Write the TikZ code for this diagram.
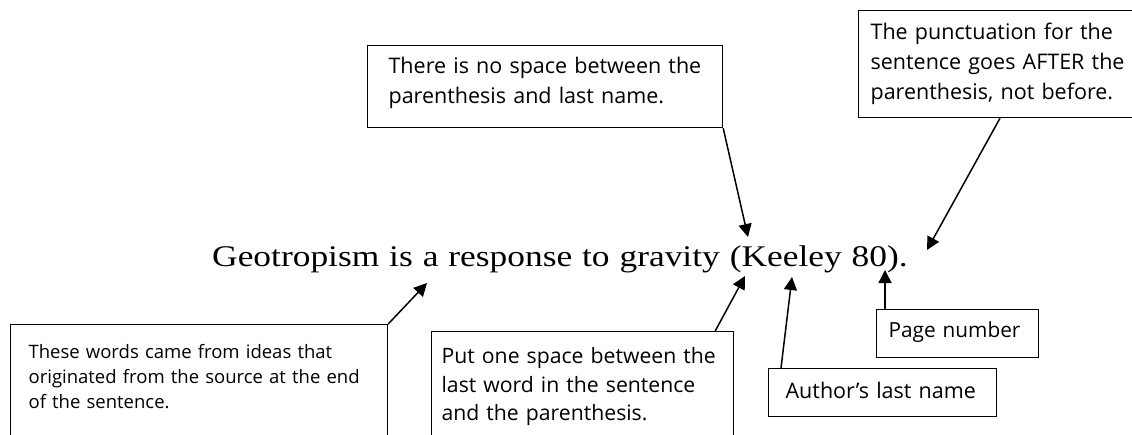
\documentclass[tikz,border=0pt]{standalone}
\usepackage{fontspec}
\setmainfont{Open Sans}
\newfontfamily\sentfont[FakeStretch=1.18]{Liberation Serif}
\usetikzlibrary{arrows.meta}
\tikzset{
  note/.style={draw,line width=1.2pt,anchor=north west,align=left,inner ysep=0pt,font=\fontsize{21.5}{30}\selectfont},
  arr/.style={-{Triangle[length=13pt,width=13pt]},line width=1.5pt},
}
\begin{document}
\begin{tikzpicture}[x=1pt,y=-1pt]
  \useasboundingbox (0,0) rectangle (1132,434);
  \clip (0,0) rectangle (1132,434);
  \node[anchor=base west,inner sep=0pt,font=\sentfont\fontsize{30}{36}\selectfont] (sent) at (212,266)
    {\spaceskip=0.33em Geotropism is a response to gravity (Keeley 80).};
  % where the arrows point
  \coordinate (tWords) at (427,283);
  \coordinate (tSpace) at (745,276);
  \coordinate (tAuthor) at (792,277);
  \coordinate (tPage) at (885,270);
  \coordinate (tParen) at (748,237);
  \coordinate (tPunct) at (927,250);
  % notes
  \node[note,inner xsep=18pt,text width=341pt,text height=34pt,text depth=82pt,font=\fontsize{18.5}{25}\selectfont] (srcnote) at (10,324)
    {These words came from ideas that\\originated from the source at the end\\of the sentence.};
  \node[note,inner xsep=10pt,text width=282pt,text height=32pt,text depth=80pt,font=\fontsize{21.2}{28.5}\selectfont] (spacenote) at (431,331)
    {Put one space between the\\last word in the sentence\\and the parenthesis.};
  \node[note,inner xsep=21pt,text width=313pt,text height=28pt,text depth=54pt] (nospace) at (367,45)
    {There is no space between the\\parenthesis and last name.};
  \node[note,inner xsep=12pt,text width=270pt,text height=29pt,text depth=78pt] (punct) at (858,10)
    {The punctuation for the\\sentence goes AFTER the\\parenthesis, not before.};
  \node[note,inner xsep=17pt,text width=194pt,text height=30pt,text depth=18pt] (author) at (768,368)
    {Author’s last name};
  \node[note,inner xsep=12pt,text width=138pt,text height=28pt,text depth=20pt,font=\fontsize{20.8}{30}\selectfont] (pagenum) at (876,309)
    {Page number};
  % arrows
  \draw[arr] (srcnote.north east) -- (tWords);
  \draw[arr] ([xshift=-19pt]spacenote.north east) -- (tSpace);
  \draw[arr] ([xshift=13pt]author.north west) -- (tAuthor);
  \draw[arr] ([xshift=9pt]pagenum.north west) -- (tPage);
  \draw[arr] (nospace.south east) -- (tParen);
  \draw[arr] ([xshift=142pt]punct.south west) -- (tPunct);
\end{tikzpicture}
\end{document}
